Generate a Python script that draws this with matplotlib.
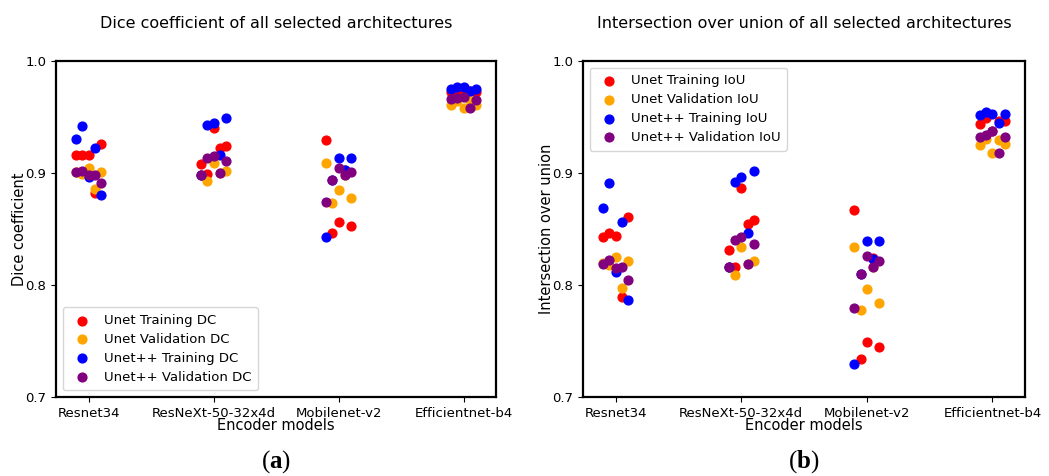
import numpy as np
import matplotlib.pyplot as plt

plt.rcParams['mathtext.fontset'] = 'custom'
plt.rcParams['mathtext.rm'] = 'Liberation Serif'
plt.rcParams['mathtext.bf'] = 'Liberation Serif:bold'

encoders = ['Resnet34', 'ResNeXt-50-32x4d', 'Mobilenet-v2', 'Efficientnet-b4']

# one row per encoder, one column per fold
dc_unet_train = [[0.916, 0.916, 0.916, 0.882, 0.926],
                 [0.908, 0.899, 0.940, 0.922, 0.924],
                 [0.929, 0.846, 0.856, 0.903, 0.853],
                 [0.972, 0.973, 0.976, 0.973, 0.972]]
dc_unet_val = [[0.901, 0.899, 0.904, 0.886, 0.901],
               [0.898, 0.893, 0.909, 0.900, 0.902],
               [0.909, 0.873, 0.885, 0.898, 0.878],
               [0.961, 0.964, 0.958, 0.965, 0.961]]
dc_unetpp_train = [[0.930, 0.942, 0.896, 0.922, 0.880],
                   [0.898, 0.943, 0.945, 0.916, 0.949],
                   [0.843, 0.894, 0.913, 0.903, 0.913],
                   [0.975, 0.977, 0.977, 0.973, 0.975]]
dc_unetpp_val = [[0.901, 0.902, 0.898, 0.898, 0.891],
                 [0.898, 0.913, 0.915, 0.900, 0.911],
                 [0.874, 0.894, 0.904, 0.898, 0.901],
                 [0.966, 0.967, 0.968, 0.958, 0.965]]

iou_unet_train = [[0.843, 0.846, 0.844, 0.789, 0.861],
                  [0.831, 0.816, 0.887, 0.854, 0.858],
                  [0.867, 0.734, 0.749, 0.824, 0.745],
                  [0.944, 0.949, 0.937, 0.946, 0.946]]
iou_unet_val = [[0.820, 0.818, 0.825, 0.797, 0.821],
                [0.816, 0.809, 0.834, 0.819, 0.821],
                [0.834, 0.778, 0.796, 0.816, 0.784],
                [0.925, 0.930, 0.918, 0.929, 0.926]]
iou_unetpp_train = [[0.869, 0.891, 0.812, 0.856, 0.787],
                    [0.816, 0.892, 0.896, 0.846, 0.902],
                    [0.729, 0.810, 0.839, 0.823, 0.839],
                    [0.952, 0.954, 0.953, 0.945, 0.953]]
iou_unetpp_val = [[0.819, 0.822, 0.815, 0.816, 0.804],
                  [0.816, 0.840, 0.843, 0.819, 0.837],
                  [0.779, 0.810, 0.826, 0.816, 0.821],
                  [0.932, 0.934, 0.937, 0.918, 0.932]]

colors = ['red', 'orange', 'blue', 'purple']
fold_shift = np.linspace(-0.1, 0.1, 5)


def draw(ax, series, labels, title, ylabel, legend_loc):
    for vals, lab, col in zip(series, labels, colors):
        for i, row in enumerate(vals):
            ax.scatter(i + fold_shift, row, s=40, color=col,
                       label=lab if i == 0 else None, zorder=3)
    ax.set_xticks(range(len(encoders)))
    ax.set_xticklabels(encoders, fontsize=9.5)
    ax.set_xlim(-0.26, 3.26)
    ax.set_ylim(0.7, 1.0)
    ax.set_yticks([0.7, 0.8, 0.9, 1.0])
    ax.tick_params(axis='y', labelsize=9.5)
    ax.set_xlabel('Encoder models', fontsize=10.5, labelpad=-1)
    ax.set_ylabel(ylabel, fontsize=10.5, labelpad=-1)
    ax.set_title(title, fontsize=11.5, pad=24)
    for sp in ax.spines.values():
        sp.set_linewidth(1.6)
    ax.legend(loc=legend_loc, fontsize=9.5, handletextpad=0.6,
              borderpad=0.5, labelspacing=0.45)


fig = plt.figure(figsize=(10.49, 4.76), dpi=100)
ax1 = fig.add_axes([0.0534, 0.166, 0.4196, 0.706])
ax2 = fig.add_axes([0.5558, 0.166, 0.4214, 0.706])

draw(ax1, [dc_unet_train, dc_unet_val, dc_unetpp_train, dc_unetpp_val],
     ['Unet Training DC', 'Unet Validation DC',
      'Unet++ Training DC', 'Unet++ Validation DC'],
     'Dice coefficient of all selected architectures', 'Dice coefficient',
     'lower left')
draw(ax2, [iou_unet_train, iou_unet_val, iou_unetpp_train, iou_unetpp_val],
     ['Unet Training IoU', 'Unet Validation IoU',
      'Unet++ Training IoU', 'Unet++ Validation IoU'],
     'Intersection over union of all selected architectures',
     'Intersection over union', 'upper left')

fig.text(0.2632, 0.018, r'$(\mathbf{a})$', ha='center', fontsize=18)
fig.text(0.7665, 0.018, r'$(\mathbf{b})$', ha='center', fontsize=18)

fig.savefig('out.png', dpi=100)
